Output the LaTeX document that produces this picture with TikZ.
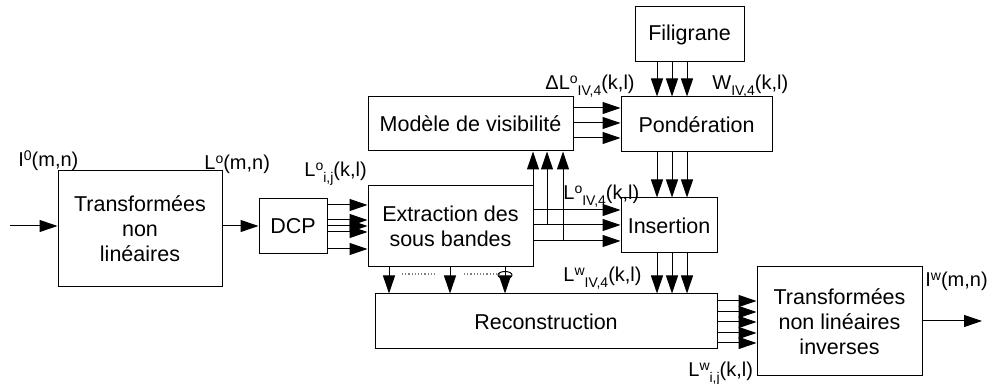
\documentclass[tikz,border=0pt]{standalone}
\usepackage{fontspec}
\setmainfont{Liberation Sans}
\usepackage{tikz}
\usetikzlibrary{positioning}
\usetikzlibrary{arrows.meta}
\usetikzlibrary{calc}
\newcommand{\lsup}[1]{\raisebox{3pt}{\fontsize{7}{8}\selectfont #1}}
\newcommand{\lsub}[1]{\raisebox{-2.8pt}{\fontsize{7}{8}\selectfont #1}}
\tikzset{block/.style={rectangle,draw=black,line width=0.5pt,inner sep=0pt,align=center,font=\fontsize{10.75}{12.5}\selectfont}}
\tikzset{line/.style={black,>={Triangle[length=9pt,width=6pt]},line width=0.5pt}}
\tikzset{lbl/.style={inner sep=0pt,anchor=base west,font=\fontsize{10}{12}\selectfont}}
\tikzset{gapline/.style={gray,densely dotted,line width=0.6pt}}

\begin{document}
\begin{tikzpicture}[x=0.5pt,y=-0.5pt]
  \useasboundingbox (0,0) rectangle (991,384);

  % Blocks
  \node[block,minimum width=82pt,minimum height=58pt] (tnl) at (140,229) {Transformées\\non\\linéaires};
  \node[block,minimum width=34pt,minimum height=27.5pt] (dcp) at (293,226.5) {DCP};
  \node[block,minimum width=82.5pt,minimum height=40.5pt] (extr) at (450.5,226.5) {Extraction des\\sous bandes};
  \node[block,minimum width=102.5pt,minimum height=27pt] (vis) at (470.5,124) {Modèle de visibilité};
  \node[block,minimum width=54.5pt,minimum height=27.5pt] (fil) at (689.5,34.5) {Filigrane};
  \node[block,minimum width=75.5pt,minimum height=27.5pt] (pond) at (696.5,124.5) {Pondération};
  \node[block,minimum width=48pt,minimum height=27.5pt] (ins) at (669,225.5) {Insertion};
  \node[block,minimum width=171pt,minimum height=27.5pt] (rec) at (546,321.5) {Reconstruction};
  \node[block,minimum width=82.5pt,minimum height=54.5pt] (tnli) at (839.5,321.5) {Transformées\\non linéaires\\inverses};

  % In / out
  \coordinate (in) at (10,226);
  \coordinate (out) at (982,321);
  \draw[line,->] (in) -- (tnl.west |- in);
  \draw[line,->] (tnl.east |- in) -- (dcp.west |- in);
  \draw[line,->] (tnli.east |- out) -- (out);

  % Bundles
  \foreach \y in {205,220,226,232,249}
    \draw[line,->] (dcp.east |- 0,\y) -- (extr.west |- 0,\y);
  \foreach \y in {108,123,138}
    \draw[line,->] (vis.east |- 0,\y) -- (pond.west |- 0,\y);
  \foreach \x in {657,672,687}
  {
    \draw[line,->] (\x,0 |- fil.south) -- (\x,0 |- pond.north);
    \draw[line,->] (\x,0 |- pond.south) -- (\x,0 |- ins.north);
    \draw[line,->] (\x,0 |- ins.south) -- (\x,0 |- rec.north);
  }
  \foreach \y/\x in {210/533,225/547,241/563}
  {
    \draw[line,->] (extr.east |- 0,\y) -- (ins.west |- 0,\y);
    \draw[line,->] (\x,\y) -- (\x,0 |- vis.south);
  }
  \foreach \x in {389,450,505}
    \draw[line,->] (\x,0 |- extr.south) -- (\x,0 |- rec.north);
  \draw[gapline] (402,274) -- (436,274);
  \draw[gapline] (464,274) -- (500,274);
  \draw[line] (505,275) ellipse (7 and 3.5);
  \foreach \y in {301,312,322,333,343}
    \draw[line,->] (rec.east |- 0,\y) -- (tnli.west |- 0,\y);

  % Labels
  \node[lbl] (lI0) at (18,167) {I\lsup{0}(m,n)};
  \node[lbl] (lLo) at (204,170) {L\lsup{o}(m,n)};
  \node[lbl] (lLoij) at (304,177) {L\lsup{o}\lsub{i,j}(k,l)};
  \node[lbl] (lDL) at (545,90) {ΔL\lsup{o}\lsub{IV,4}(k,l)};
  \node[lbl] (lW) at (712,90) {W\lsub{IV,4}(k,l)};
  \node[lbl] (lLoIV) at (563,200) {L\lsup{o}\lsub{IV,4}(k,l)};
  \node[lbl] (lLwIV) at (563,282) {L\lsup{w}\lsub{IV,4}(k,l)};
  \node[lbl] (lLwij) at (688,377) {L\lsup{w}\lsub{i,j}(k,l)};
  \node[lbl] (lIw) at (925,287) {I\lsup{w}(m,n)};
\end{tikzpicture}
\end{document}
